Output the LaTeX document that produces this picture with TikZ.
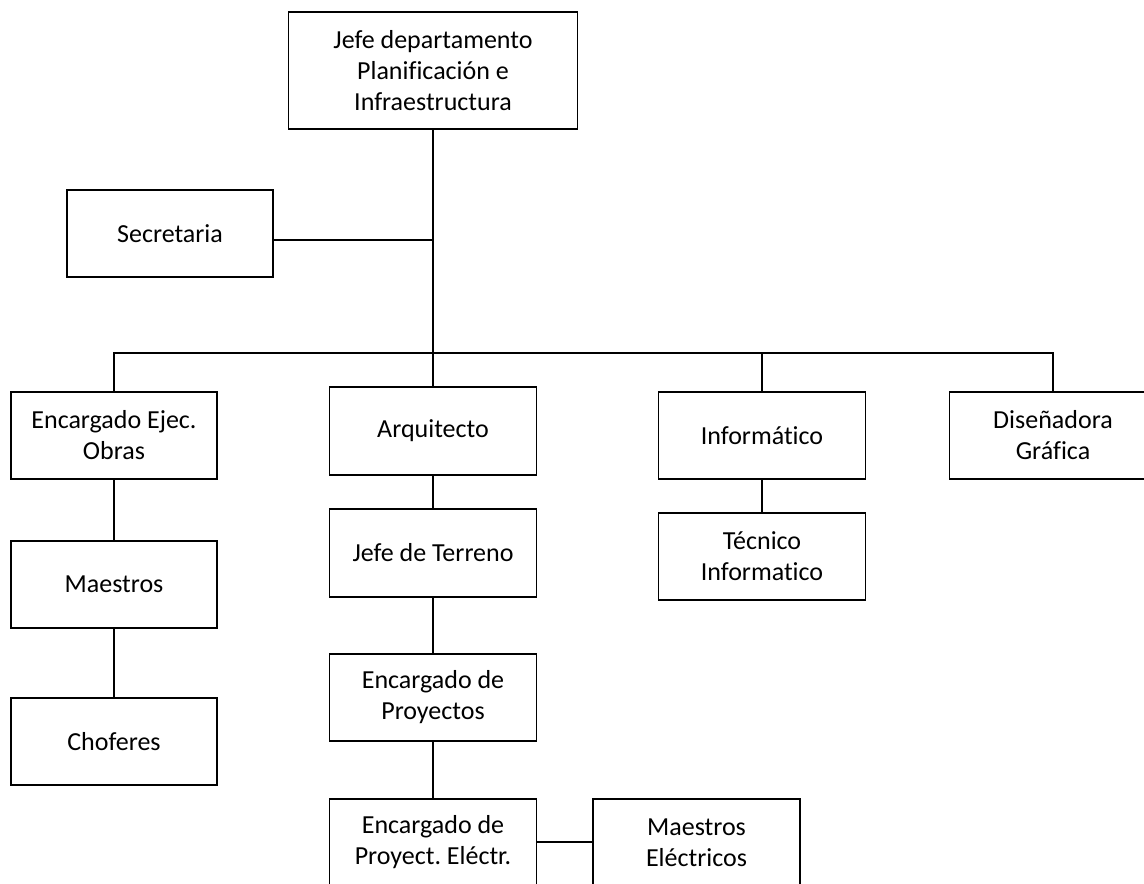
\documentclass[tikz,border=0pt]{standalone}
\usepackage{fontspec}
\setmainfont{Carlito}[Ligatures=NoCommon]
\frenchspacing
\begin{document}
\begin{tikzpicture}[x=1pt,y=-1pt,
  box/.style={draw,line width=1.6pt,inner sep=0pt,align=center,
    minimum width=207pt,minimum height=87pt,
    font=\fontsize{26}{31}\selectfont},
  link/.style={line width=1.6pt}]
\useasboundingbox (0,0) rectangle (1144,884);
\clip (0,0) rectangle (1144,884);
\node[box,minimum width=289pt,minimum height=117pt] (top) at (433,70.5) {Jefe departamento\\Planificación e\\Infraestructura};
\node[box,minimum width=206pt] (sec) at (170,233.5) {Secretaria};
\node[box,minimum width=206pt] (enc) at (114,435.5) {Encargado Ejec.\\Obras};
\node[box,minimum height=88pt] (arq) at (433,431) {Arquitecto};
\node[box] (inf) at (762,435.5) {Informático};
\node[box] (dis) at (1053,435.5) {Diseñadora\\Gráfica};
\node[box,minimum width=206pt] (mae) at (114,584.5) {Maestros};
\node[box,minimum width=206pt] (cho) at (114,741.5) {Choferes};
\node[box,minimum height=88pt] (jt) at (433,553) {Jefe de Terreno};
\node[box] (tec) at (762,556.5) {Técnico\\Informatico};
\node[box] (ep) at (433,697.5) {Encargado de\\Proyectos};
\node[box] (epe) at (433,842.5) {Encargado de\\Proyect. Eléctr.};
\node[box] (me) at (696.5,842.5) {Maestros\\Eléctricos};
\coordinate (bus) at (433,353);
\coordinate (secj) at (433,240);
\coordinate (mej) at (600,842);
\draw[link] (top.south) -- (arq.north);
\draw[link] (secj -| sec.east) -- (secj);
\draw[link] (enc.north) |- (bus) -| (dis.north);
\draw[link] (inf.north) -- (inf.north |- bus);
\draw[link] (enc) -- (mae);
\draw[link] (mae) -- (cho);
\draw[link] (arq) -- (jt);
\draw[link] (jt) -- (ep);
\draw[link] (ep) -- (epe);
\draw[link] (inf) -- (tec);
\draw[link] (mej -| epe.east) -- (mej -| me.west);
\end{tikzpicture}
\end{document}
